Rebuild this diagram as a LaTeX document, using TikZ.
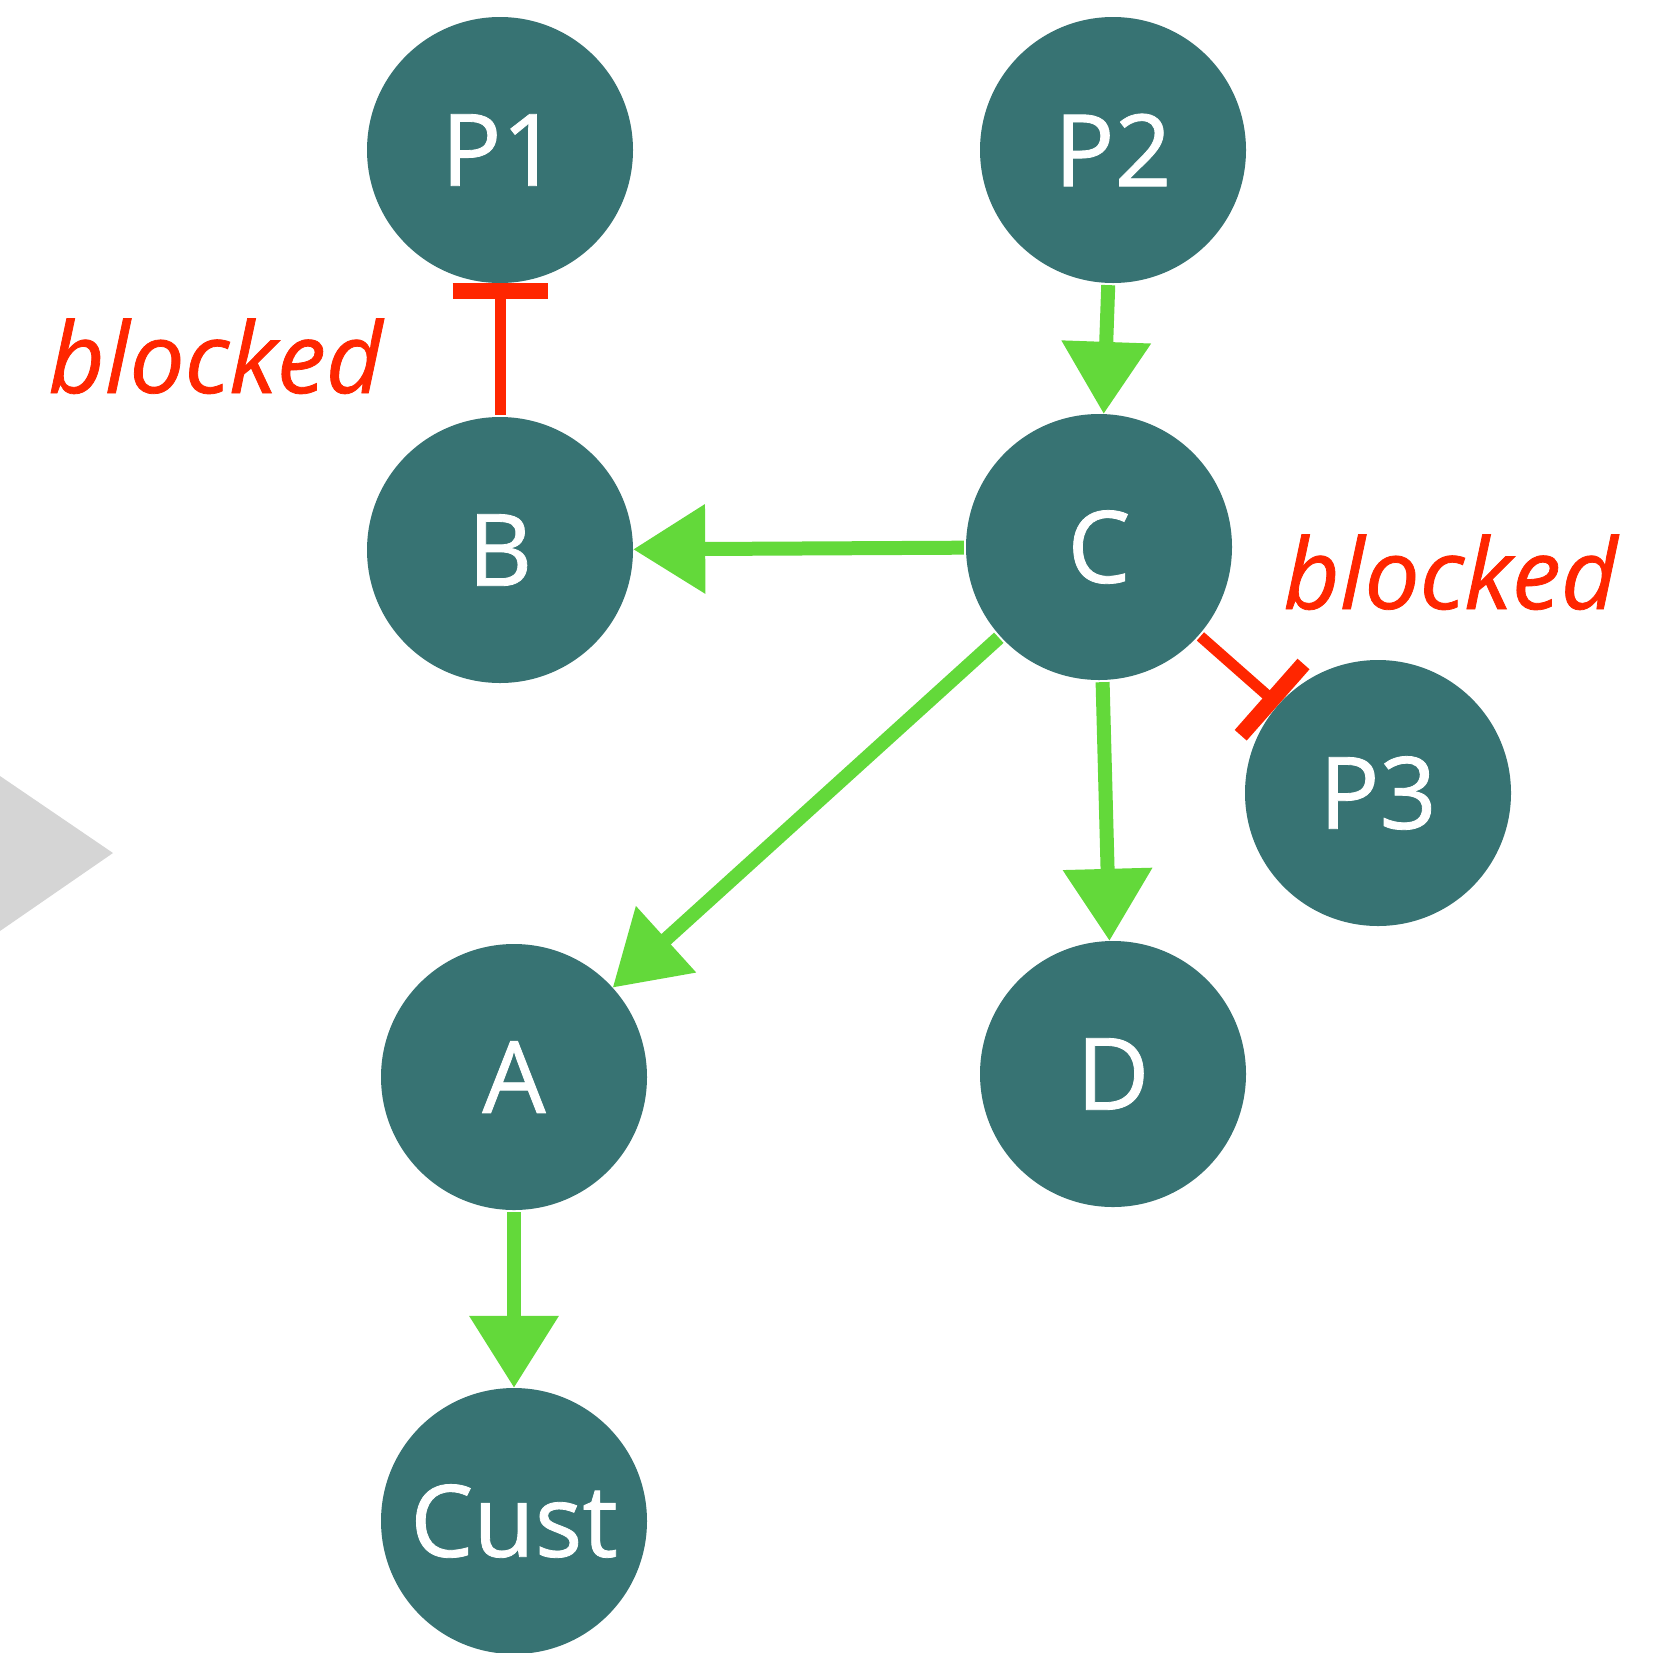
\documentclass[tikz,border=0pt]{standalone}
\usepackage{fontspec}
\setmainfont{Open Sans}[FakeBold=0.8]
\usetikzlibrary{arrows.meta}
\definecolor{nodeteal}{HTML}{377373}
\definecolor{flowgreen}{HTML}{63D93A}
\definecolor{blockred}{HTML}{FF2600}
\definecolor{markergray}{HTML}{D5D5D5}
\tikzset{
  proc/.style={circle, fill=nodeteal, draw=none, minimum size=266pt, inner sep=0pt,
    text=white, font=\fontsize{100}{110}\selectfont},
  flow/.style={draw=flowgreen, line width=14pt, shorten <=2pt,
    -{Triangle[length=72pt, width=86pt]}, fill=flowgreen},
  block/.style={draw=blockred, line width=11pt, shorten <=2pt,
    -{Bar[width=95pt, line width=16pt]}},
  blocklabel/.style={text=blockred, anchor=base west, inner sep=0pt,
    font=\fontsize{98}{110}\selectfont\itshape}
}
\begin{document}
\begin{tikzpicture}[x=1pt, y=-1pt]
  \useasboundingbox (0,0) rectangle (1656,1652);
  % side marker
  \fill[markergray] (0,776) -- (113,853) -- (0,931) -- cycle;
  % processes
  \node[proc] (p1)   at (500,150)  {P1};
  \node[proc] (p2)   at (1113,150) {P2};
  \node[proc] (b)    at (500,550)  {B};
  \node[proc] (c)    at (1099,547) {C};
  \node[proc] (p3)   at (1378,793) {P3};
  \node[proc] (a)    at (514,1077) {A};
  \node[proc] (d)    at (1113,1074){D};
  \node[proc] (cust) at (514,1521) {Cust};
  % labels
  \node[blocklabel] (lblL) at (48,393)  {blocked};
  \node[blocklabel] (lblR) at (1283,609) {blocked};
  % connectors
  \draw[block] (b) -- (p1);
  \draw[block] (c) -- (p3);
  \draw[flow] (p2) -- (c);
  \draw[flow] (c) -- (b);
  \draw[flow] (c) -- (a);
  \draw[flow] (c) -- (d);
  \draw[flow] (a) -- (cust);
\end{tikzpicture}
\end{document}
